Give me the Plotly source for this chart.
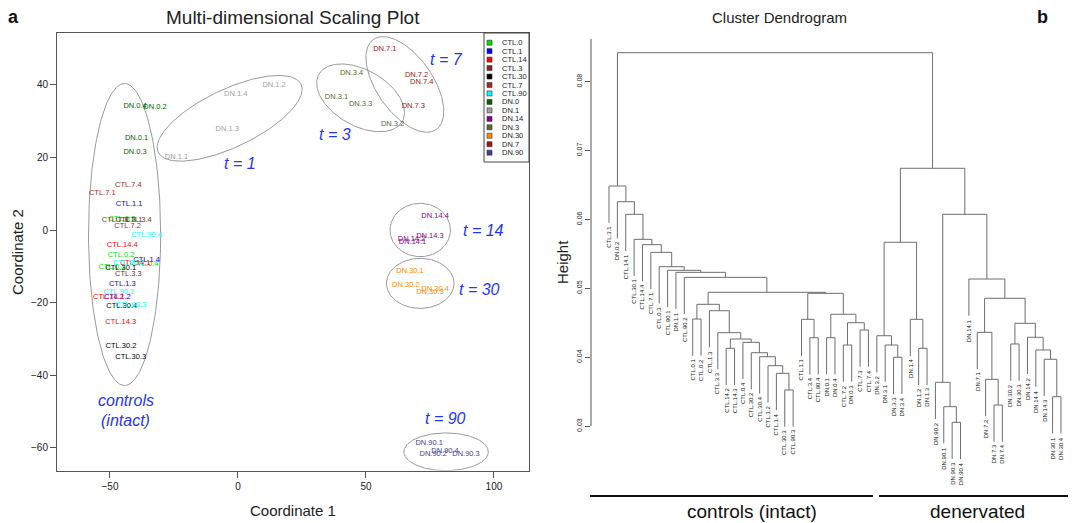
import numpy as np
import plotly.graph_objects as go

W, H = 1077, 523
FONT = "Liberation Sans, Arial, Helvetica, sans-serif"

# ---------------- MDS data ----------------
groups = ["CTL.0", "CTL.1", "CTL.14", "CTL.3", "CTL.30", "CTL.7", "CTL.90",
          "DN.0", "DN.1", "DN.14", "DN.3", "DN.30", "DN.7", "DN.90"]
group_colors = ["#00E000", "#0000FF", "#FF0000", "#8B2323", "#000000", "#A52A2A", "#00FFFF",
                "#006400", "#A0A0A0", "#8B008B", "#556B2F", "#FF8C00", "#A01515", "#483D8B"]

mds_labels = ["CTL.0.1", "CTL.0.2", "CTL.0.3", "CTL.0.4",
              "CTL.1.1", "CTL.1.2", "CTL.1.3", "CTL.1.4",
              "CTL.14.1", "CTL.14.2", "CTL.14.3", "CTL.14.4",
              "CTL.3.1", "CTL.3.3", "CTL.3.4",
              "CTL.30.1", "CTL.30.2", "CTL.30.3", "CTL.30.4",
              "CTL.7.1", "CTL.7.2", "CTL.7.3", "CTL.7.4",
              "CTL.90.1", "CTL.90.2", "CTL.90.3", "CTL.90.4",
              "DN.0.1", "DN.0.2", "DN.0.3", "DN.0.4",
              "DN.1.1", "DN.1.2", "DN.1.3", "DN.1.4",
              "DN.14.1", "DN.14.2", "DN.14.3", "DN.14.4",
              "DN.3.1", "DN.3.2", "DN.3.3", "DN.3.4",
              "DN.30.1", "DN.30.2", "DN.30.3", "DN.30.4",
              "DN.7.1", "DN.7.2", "DN.7.3", "DN.7.4",
              "DN.90.1", "DN.90.2", "DN.90.3", "DN.90.4"]
mds_x = [-49.3, -45.7, -45.4, -36.3,
         -42.5, -47.1, -45.2, -35.7,
         -40.2, -50.6, -45.8, -45.2,
         -42.5, -42.8, -38.9,
         -45.8, -45.7, -41.9, -45.4,
         -53.0, -43.1, -48.0, -42.8,
         -46.5, -42.8, -41.9, -35.7,
         -39.6, -32.4, -40.2, -40.2,
         -24.0, 14.1, -4.2, -0.9,
         68.2, 67.8, 75.0, 77.0,
         38.5, 60.4, 47.9, 44.4,
         67.2, 65.6, 75.0, 77.0,
         57.4, 69.8, 68.5, 71.8,
         74.7, 76.3, 89.1, 80.9]
mds_y = [-10.1, -6.9, 2.9, -9.4,
         7.1, -18.5, -14.8, -8.3,
         -9.2, -18.5, -25.3, -4.3,
         2.8, -12.2, 2.75,
         -10.4, -31.9, -34.9, -21.1,
         10.1, 1.2, 2.75, 12.4,
         -17.2, -9.0, -20.7, -1.4,
         25.4, 33.9, 21.4, 34.2,
         20.1, 39.9, 27.8, 37.4,
         -3.4, -2.5, -1.7, 3.7,
         36.7, 29.2, 34.7, 43.3,
         -11.2, -15.2, -17.0, -16.2,
         49.9, 42.7, 34.2, 40.7,
         -58.8, -61.8, -61.8, -60.8]

# group ellipses: centre and two conjugate half-axes (data units)
ell_cx = [-44.3, -3.24, 47.9, 65.2, 71.2, 71.2, 81.3]
ell_cy = [-1.24, 30.77, 36.4, 40.1, 0.0, -14.7, -61.1]
ell_ux = [14.1, 27.9, 16.3, 12.3, 11.8, 13.2, 16.5]
ell_uy = [0.0, 9.37, -6.5, -12.4, 0.0, 0.0, 0.0]
ell_vx = [0.0, 4.88, -5.38, -8.96, 0.0, 0.0, 0.0]
ell_vy = [41.6, -7.19, -6.71, -4.43, 7.35, 6.9, 5.2]

# time annotations
tlab_text = ["t = 1", "t = 3", "t = 7", "t = 14", "t = 30", "t = 90", "controls", "(intact)"]
tlab_x = [0.8, 37.9, 81.5, 95.8, 94.5, 80.9, -43.9, -43.9]
tlab_y = [18.2, 26.2, 47.0, 0.0, -16.5, -51.8, -47.0, -52.5]

# ---------------- Dendrogram data ----------------
leaf_order = ["CTL.3.1", "DN.0.2", "CTL.14.1", "CTL.30.1", "CTL.14.4", "CTL.7.1", "CTL.0.3",
              "CTL.90.1", "DN.1.1", "CTL.90.2", "CTL.0.1", "CTL.0.2", "CTL.1.3", "CTL.3.3",
              "CTL.14.2", "CTL.14.3", "CTL.0.4", "CTL.30.2", "CTL.30.4", "CTL.1.2", "CTL.1.4",
              "CTL.30.3", "CTL.90.3", "CTL.1.1", "CTL.3.4", "CTL.90.4", "DN.0.1", "DN.0.4",
              "CTL.7.2", "DN.0.3", "CTL.7.3", "CTL.7.4", "DN.3.2", "DN.3.1", "DN.3.3", "DN.3.4",
              "DN.1.4", "DN.1.2", "DN.1.3", "DN.90.2", "DN.90.1", "DN.90.3", "DN.90.4",
              "DN.14.1", "DN.7.1", "DN.7.2", "DN.7.3", "DN.7.4", "DN.30.2", "DN.30.3",
              "DN.14.2", "DN.14.4", "DN.14.3", "DN.30.1", "DN.30.4"]
# merges: (node name, left child, right child, height)
merges = [
    ("L", "CTL.30.3", "CTL.90.3", 0.03524),
    ("K", "CTL.1.4", "L", 0.03766),
    ("J", "CTL.1.2", "K", 0.03877),
    ("I", "CTL.30.4", "J", 0.04007),
    ("Hn", "CTL.30.2", "I", 0.04065),
    ("G", "CTL.0.4", "Hn", 0.04216),
    ("F", "CTL.14.2", "CTL.14.3", 0.04129),
    ("E", "F", "G", 0.04264),
    ("D", "CTL.3.3", "E", 0.04356),
    ("C", "CTL.1.3", "D", 0.04675),
    ("A", "CTL.0.1", "CTL.0.2", 0.04554),
    ("B", "A", "C", 0.04768),
    ("Q", "CTL.3.4", "CTL.90.4", 0.04283),
    ("P", "CTL.1.1", "Q", 0.04550),
    ("S", "DN.0.1", "DN.0.4", 0.04283),
    ("U", "CTL.7.2", "DN.0.3", 0.04177),
    ("V", "CTL.7.3", "CTL.7.4", 0.04395),
    ("T", "U", "V", 0.04501),
    ("R", "S", "T", 0.04623),
    ("O", "P", "R", 0.04927),
    ("M", "B", "O", 0.04942),
    ("c1", "CTL.90.2", "M", 0.05159),
    ("c2", "DN.1.1", "c1", 0.05232),
    ("c3", "CTL.90.1", "c2", 0.05261),
    ("c4", "CTL.0.3", "c3", 0.05314),
    ("c5", "CTL.7.1", "c4", 0.05522),
    ("c6", "CTL.14.4", "c5", 0.05633),
    ("c7", "CTL.30.1", "c6", 0.05711),
    ("c8", "CTL.14.1", "c7", 0.06074),
    ("c9", "DN.0.2", "c8", 0.06257),
    ("CTLtop", "CTL.3.1", "c9", 0.06485),
    ("Y", "DN.3.3", "DN.3.4", 0.03999),
    ("X", "DN.3.1", "Y", 0.04177),
    ("Wn", "DN.3.2", "X", 0.04312),
    ("AA", "DN.1.2", "DN.1.3", 0.04129),
    ("Z", "DN.1.4", "AA", 0.04550),
    ("DNL", "Wn", "Z", 0.05668),
    ("DD", "DN.90.3", "DN.90.4", 0.03055),
    ("CC", "DN.90.1", "DD", 0.03282),
    ("BB", "DN.90.2", "CC", 0.03636),
    ("HH", "DN.7.3", "DN.7.4", 0.03306),
    ("GG", "DN.7.2", "HH", 0.03679),
    ("FF", "DN.7.1", "GG", 0.04361),
    ("JJ", "DN.30.2", "DN.30.3", 0.04192),
    ("NN", "DN.30.1", "DN.30.4", 0.03427),
    ("MM", "DN.14.3", "NN", 0.03970),
    ("LL", "DN.14.4", "MM", 0.04105),
    ("KK", "DN.14.2", "LL", 0.04289),
    ("II", "JJ", "KK", 0.04492),
    ("EE", "FF", "II", 0.04855),
    ("d1", "DN.14.1", "EE", 0.05135),
    ("DNR", "BB", "d1", 0.06074),
    ("DNtop", "DNL", "DNR", 0.06742),
    ("root", "CTLtop", "DNtop", 0.08420),
]
hang = 0.00533
dendro_ticks = [0.03, 0.04, 0.05, 0.06, 0.07, 0.08]


def px(x):
    return x / W


def py(y):
    return 1 - y / H


def paper_text(x, y, text, size, color="#222", angle=0, xanchor="center"):
    return dict(x=px(x), y=py(y), xref="paper", yref="paper", text=text, showarrow=False,
                xanchor=xanchor, yanchor="middle", textangle=angle,
                font=dict(family=FONT, size=size, color=color))


fig = go.Figure()

# ---- MDS panel ----
for cx, cy, ux, uy, vx, vy in zip(ell_cx, ell_cy, ell_ux, ell_uy, ell_vx, ell_vy):
    t = np.linspace(0, 2 * np.pi, 200)
    ex = cx + np.cos(t) * ux + np.sin(t) * vx
    ey = cy + np.cos(t) * uy + np.sin(t) * vy
    fig.add_trace(go.Scatter(x=ex, y=ey, mode="lines", line=dict(color="#9a9a9a", width=1),
                             hoverinfo="skip", showlegend=False, xaxis="x", yaxis="y"))

color_of = dict(zip(groups, group_colors))
lab_colors = [color_of[l.rsplit(".", 1)[0]] for l in mds_labels]
fig.add_trace(go.Scatter(x=mds_x, y=mds_y, mode="text", text=mds_labels,
                         textfont=dict(family=FONT, size=7.5, color=lab_colors),
                         textposition="middle center", showlegend=False, xaxis="x", yaxis="y"))

annotations = []
shapes = []
for txt, x, y in zip(tlab_text, tlab_x, tlab_y):
    annotations.append(dict(x=x, y=y, xref="x", yref="y", text="<i>%s</i>" % txt, showarrow=False,
                            xanchor="center", yanchor="middle",
                            font=dict(family=FONT, size=16, color="#1f35ff")))

# legend (drawn manually, R-style)
leg_x0, leg_x1, leg_y0, leg_y1 = 484, 529, 33, 162
shapes.append(dict(type="rect", xref="paper", yref="paper", x0=px(leg_x0), x1=px(leg_x1),
                   y0=py(leg_y1), y1=py(leg_y0), line=dict(color="#444", width=1),
                   fillcolor="white", layer="above"))
for i, (g, c) in enumerate(zip(groups, group_colors)):
    yy = 42.7 + i * 8.46
    shapes.append(dict(type="rect", xref="paper", yref="paper", x0=px(487), x1=px(492),
                       y0=py(yy + 2.5), y1=py(yy - 2.5), line=dict(color="#333", width=0.6),
                       fillcolor=c, layer="above"))
    annotations.append(paper_text(500, yy, g, 7.5, "#222", xanchor="left"))

annotations += [
    paper_text(13, 17, "<b>a</b>", 18, "#111"),
    paper_text(293, 17, "Multi-dimensional Scaling Plot", 19),
    paper_text(293, 510, "Coordinate 1", 15),
    paper_text(18, 252, "Coordinate 2", 15, angle=-90),
]

# ---- Dendrogram panel ----
leaf_pos = {l: i + 1 for i, l in enumerate(leaf_order)}
node_x = dict(leaf_pos)
node_h = {}
parent_h = {}
for name, a, b, h in merges:
    node_x[name] = (node_x[a] + node_x[b]) / 2.0
    node_h[name] = h
    parent_h[a] = h
    parent_h[b] = h

lx, ly = [], []
for name, a, b, h in merges:
    ya = node_h[a] if a in node_h else h - hang
    yb = node_h[b] if b in node_h else h - hang
    lx += [node_x[a], node_x[a], node_x[b], node_x[b], None]
    ly += [ya, h, h, yb, None]
fig.add_trace(go.Scatter(x=lx, y=ly, mode="lines", line=dict(color="#6e6e6e", width=1),
                         hoverinfo="skip", showlegend=False, xaxis="x2", yaxis="y2"))

for l in leaf_order:
    annotations.append(dict(x=leaf_pos[l], y=parent_h[l] - hang - 0.0003, xref="x2", yref="y2",
                            text=l, textangle=-90, showarrow=False, xanchor="center", yanchor="top",
                            borderpad=0, font=dict(family=FONT, size=6, color="#111")))

annotations += [
    paper_text(1042, 17, "<b>b</b>", 18, "#111"),
    paper_text(780, 17, "Cluster Dendrogram", 15),
    paper_text(562, 262, "Height", 15, angle=-90),
    paper_text(752, 511, "controls (intact)", 19, "#111"),
    paper_text(978, 511, "denervated", 19, "#111"),
]
shapes += [
    dict(type="line", xref="paper", yref="paper", x0=px(590), x1=px(873), y0=py(496), y1=py(496),
         line=dict(color="#111", width=2)),
    dict(type="line", xref="paper", yref="paper", x0=px(879), x1=px(1068), y0=py(496), y1=py(496),
         line=dict(color="#111", width=2)),
    dict(type="line", xref="x2 domain", yref="y2", x0=0, x1=0, y0=min(dendro_ticks), y1=0.0862,
         line=dict(color="#555", width=1)),
]

mds_dom_x = [57 / W, 529 / W]
mds_dom_y = [1 - 470.5 / H, 1 - 33 / H]
den_dom_x = [591 / W, 1072 / W]
den_dom_y = [1 - 472 / H, 1 - 38 / H]

axis_font = dict(family=FONT, size=10, color="#222")
fig.update_layout(
    width=W, height=H, margin=dict(l=0, r=0, t=0, b=0),
    paper_bgcolor="white", plot_bgcolor="white", showlegend=False,
    xaxis=dict(domain=mds_dom_x, range=[-70.7, 113.7], tickvals=[-50, 0, 50, 100],
               showgrid=False, zeroline=False, showline=True, mirror=True, linecolor="#555",
               linewidth=1, ticks="outside", ticklen=6, tickcolor="#555", tickfont=axis_font),
    yaxis=dict(domain=mds_dom_y, range=[-66.25, 54.27], tickvals=[-60, -40, -20, 0, 20, 40],
               showgrid=False, zeroline=False, showline=True, mirror=True, linecolor="#555",
               linewidth=1, ticks="outside", ticklen=6, tickcolor="#555", tickfont=axis_font),
    xaxis2=dict(domain=den_dom_x, range=[-1.15, 56.32], visible=False, anchor="y2"),
    yaxis2=dict(domain=den_dom_y, range=[0.02334, 0.08633], tickvals=dendro_ticks,
                ticktext=["%.2f" % v for v in dendro_ticks], tickangle=-90,
                showgrid=False, zeroline=False, showline=False, ticks="outside", ticklen=5,
                tickcolor="#555", tickfont=dict(family=FONT, size=7, color="#222"), anchor="x2"),
    annotations=annotations, shapes=shapes,
)

fig.write_html("out.html")
